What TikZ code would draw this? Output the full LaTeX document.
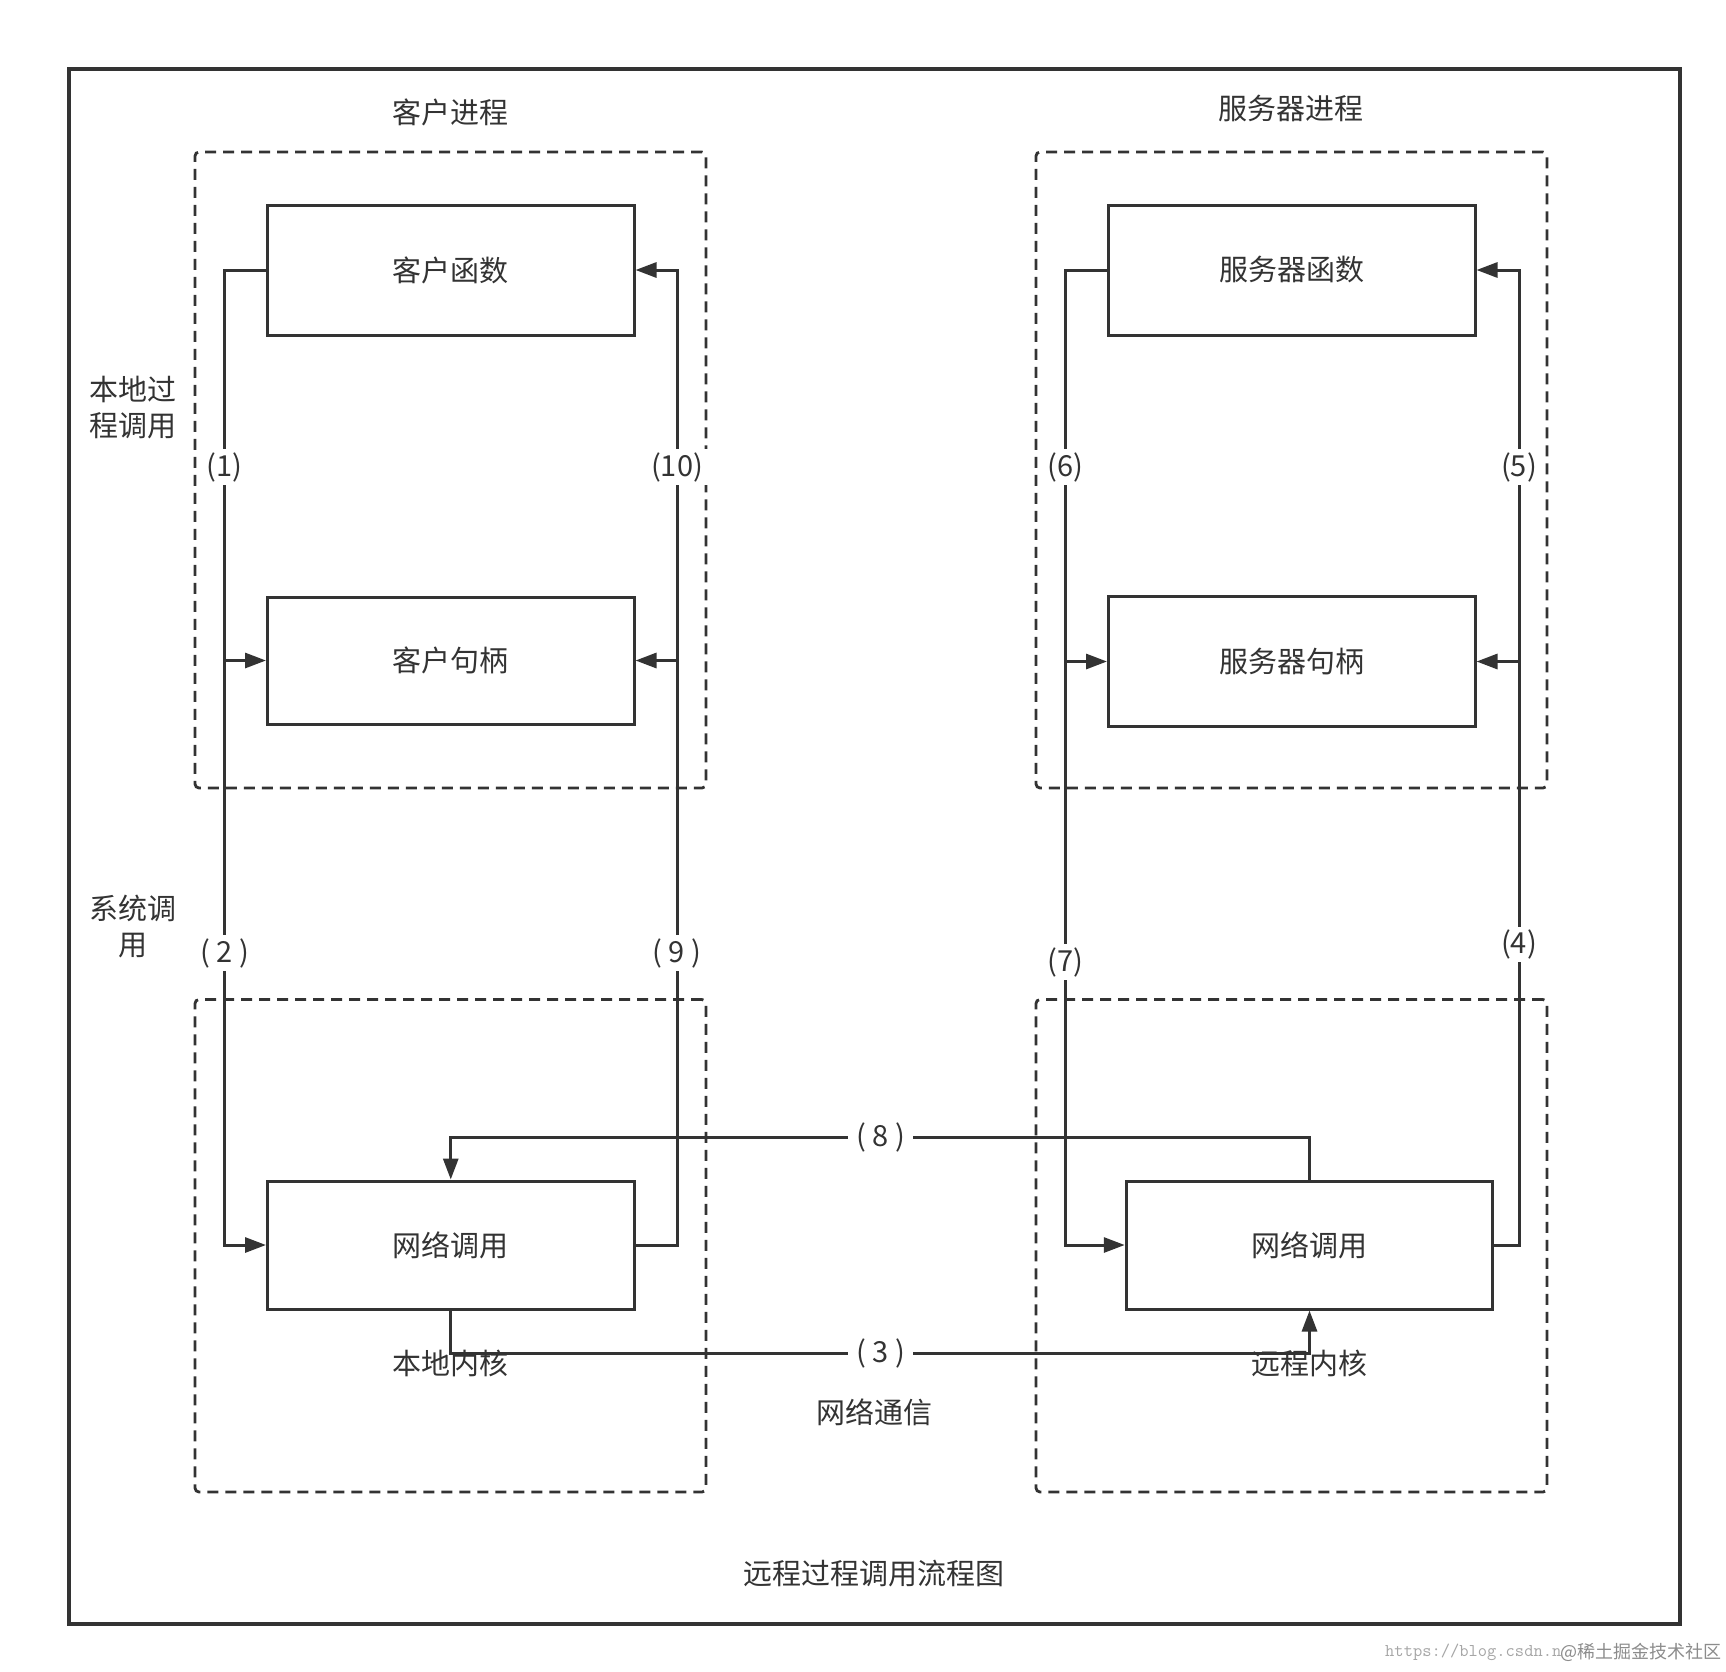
\documentclass[tikz,border=0pt]{standalone}
\usepackage{fontspec}
\setmainfont{Noto Sans CJK SC}
\usetikzlibrary{arrows.meta}
\definecolor{ink}{HTML}{333333}
\begin{document}
\begin{tikzpicture}[x=1pt,y=-1pt,
  every node/.style={text=ink, font=\fontsize{29}{36}\selectfont},
  box/.style={draw=ink, line width=3pt, minimum width=366.5pt, minimum height=128pt, inner sep=0pt},
  grp/.style={draw=ink, line width=2.8pt, dash pattern=on 11pt off 7pt, rounded corners=4pt, inner sep=0pt},
  conn/.style={draw=ink, line width=3pt},
  arr/.style={conn, -{Triangle[length=21pt,width=15pt]}},
  lbl/.style={fill=white, inner xsep=8pt, inner ysep=3pt},
  txt/.style={inner sep=2pt}
]
\fill[white] (0,0) rectangle (1726,1671);
\useasboundingbox (0,0) rectangle (1726,1671);

% outer frame
\node[draw=ink, line width=3.2pt, minimum width=1611pt, minimum height=1555pt, inner sep=0pt] (frame) at (874.5,846.5) {};

% dashed groups
\node[grp, minimum width=511pt, minimum height=636pt] (cp) at (450.5,470) {};
\node[grp, minimum width=511pt, minimum height=492.5pt] (ck) at (450.5,1245.75) {};
\node[grp, minimum width=511pt, minimum height=636pt] (sp) at (1291.5,470) {};
\node[grp, minimum width=511pt, minimum height=492.5pt] (sk) at (1291.5,1245.75) {};

% titles and side labels
\node[txt] (t1) at (450,112) {客户进程};
\node[txt] (t2) at (1291,108) {服务器进程};
\node[txt, align=center] (t3) at (133,408) {本地过\\程调用};
\node[txt, align=center] (t4) at (133,926) {系统调\\用};
\node[txt] (t5) at (450,1363) {本地内核};
\node[txt] (t6) at (1309,1363) {远程内核};
\node[txt] (t7) at (874,1412) {网络通信};
\node[txt] (t8) at (874,1574) {远程过程调用流程图};

% boxes
\node[box, minimum height=130pt] (cf) at (450.75,270) {客户函数};
\node[box, minimum height=127pt] (ch) at (450.75,660.5) {客户句柄};
\node[box] (cn) at (450.75,1245) {网络调用};
\node[box, minimum height=130pt] (sf) at (1291.75,270) {服务器函数};
\node[box, minimum height=130pt] (sh) at (1291.75,661.5) {服务器句柄};
\node[box] (sn) at (1309.5,1245) {网络调用};

% rails
\coordinate (cl) at (224.6,0);
\coordinate (cr) at (677,0);
\coordinate (sl) at (1065.6,0);
\coordinate (sr) at (1519,0);
\coordinate (y3) at (0,1353);
\coordinate (y8) at (0,1137);

% connectors
\draw[arr] (cf.west) -| (cl |- cn.west) -- (cn.west);
\draw[arr] (cl |- ch.west) -- (ch.west);
\draw[arr] (cn.east) -| (cr |- cf.east) -- (cf.east);
\draw[arr] (cr |- ch.east) -- (ch.east);
\draw[arr] (sf.west) -| (sl |- sn.west) -- (sn.west);
\draw[arr] (sl |- sh.west) -- (sh.west);
\draw[arr] (sn.east) -| (sr |- sf.east) -- (sf.east);
\draw[arr] (sr |- sh.east) -- (sh.east);
\draw[arr] (cn.south) |- (sn.south |- y3) -- (sn.south);
\draw[arr] (sn.north) |- (cn.north |- y8) -- (cn.north);

% step labels
\node[lbl] (n1) at (224.6,467) {(1)};
\node[lbl] (n2) at (224.6,953) {( 2 )};
\node[lbl] (n3) at (880.6,1353) {( 3 )};
\node[lbl] (n4) at (1519,944.5) {(4)};
\node[lbl] (n5) at (1519,467) {(5)};
\node[lbl] (n6) at (1065.6,467) {(6)};
\node[lbl] (n7) at (1065.6,962) {(7)};
\node[lbl] (n8) at (880.6,1137) {( 8 )};
\node[lbl] (n9) at (677,953) {( 9 )};
\node[lbl] (n10) at (677,467) {(10)};

% watermark
\node[text=black!35, font=\ttfamily\fontsize{18}{18}\selectfont, anchor=west, inner sep=0pt] (wm1) at (1385,1652) {https://blog.csdn.n};
\node[text=black!45, font=\fontsize{18}{18}\selectfont, anchor=east, inner sep=0pt] (wm2) at (1722,1652) {@稀土掘金技术社区};
\end{tikzpicture}
\end{document}
